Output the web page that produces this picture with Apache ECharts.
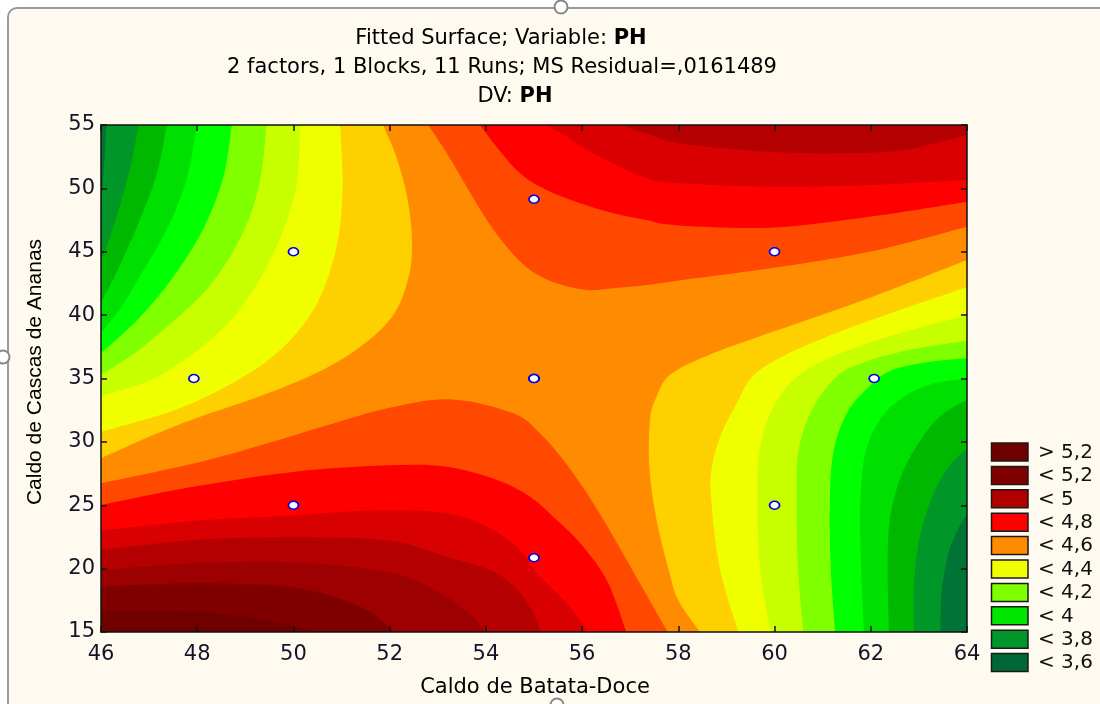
<!DOCTYPE html>
<html><head><meta charset="utf-8">
<script src="https://cdn.jsdelivr.net/npm/echarts@6/dist/echarts.min.js"></script>
<style>html,body{margin:0;padding:0;background:#fff}#c{width:1100px;height:704px}</style>
</head><body><div id="c"></div>
<script>
// ---------- axes ----------
const xMin = 46, xMax = 64, xStep = 2;
const yMin = 15, yMax = 55, yStep = 5;
const xName = 'Caldo de Batata-Doce';
const yName = 'Caldo de Cascas de Ananas';
const titleLines = ['Fitted Surface; Variable: ', '2 factors, 1 Blocks, 11 Runs; MS Residual=,0161489', 'DV: '];
const titleBold = ['PH', '', 'PH'];

// ---------- legend ----------
const legendLabels = ['> 5,2', '< 5,2', '< 5', '< 4,8', '< 4,6', '< 4,4', '< 4,2', '< 4', '< 3,8', '< 3,6'];
const legendColors = ['#6E0000', '#800000', '#B00000', '#FF0000', '#FF8C00', '#F0FF00', '#80FF00', '#00E600', '#00962A', '#006838'];

// ---------- contour bands ----------
const centerColor = '#FF8C00';                       // band 4.5 - 4.6 (saddle centre)
const lowLevels = [4.5, 4.4, 4.3, 4.2, 4.1, 4.0, 3.9, 3.8, 3.7];
const lowColors = ['#FFD000', '#F0FF00', '#C8FF00', '#80FF00', '#00FF00', '#00E000', '#00B800', '#009628', '#007434'];
const highLevels = [4.6, 4.7, 4.8, 4.9, 5.0, 5.1, 5.2];
const highColors = ['#FF4800', '#FF0000', '#D80000', '#B40000', '#9C0000', '#800000', '#700000'];

// contour lines, [x, y] in data units
// top-left family (top edge -> left edge), same order as lowLevels
const contourTopLeft = [
  [[51.86,55],[52.11,52.8],[52.32,50.1],[52.44,47.3],[52.46,44.7],[52.38,42.8],[52.17,40.6],[51.8,38.8],[51.2,37],[50.4,35.3],[49.3,33.6],[48,31.9],[47,30.4],[46,28.7]],
  [[50.97,55],[51.02,50],[50.9,45.5],[50.5,41],[49.8,37.5],[48.9,35],[47.6,32.6],[46,30.8]],
  [[50.14,55],[50.05,50],[49.6,45],[48.9,40.5],[48.1,37.5],[47.1,35],[46,33.6]],
  [[49.44,55],[49.3,50.5],[48.95,46.5],[48.3,42.5],[47.5,39.5],[46.7,37],[46,35.3]],
  [[48.72,55],[48.55,51],[48.15,47],[47.5,43],[46.8,39.8],[46,37]],
  [[47.99,55],[47.8,51],[47.4,47],[46.8,43],[46.4,40.5],[46,38.6]],
  [[47.37,55],[47.15,51],[46.75,47],[46.3,43.2],[46,41]],
  [[46.78,55],[46.6,51.5],[46.3,47.5],[46,44.2]],
  [[46.12,55],[46.06,51.5],[46,48.3]]
];
// bottom-right family (bottom edge -> right edge), same order as lowLevels
const contourBottomRight = [
  [[58.45,15],[58.0,17.5],[57.8,19.9],[57.55,23.8],[57.4,27.8],[57.41,31.7],[57.55,33.6],[57.83,35.3],[58.6,36.8],[59.9,38.6],[62.0,41.4],[64,44.35]],
  [[59.25,15],[58.87,19.9],[58.69,25.15],[58.69,27.8],[58.87,30.4],[59.21,33.0],[59.55,35.2],[60.2,36.8],[61.3,38.6],[62.6,40.4],[64,42.2]],
  [[59.92,15],[59.7,19.9],[59.64,25.15],[59.68,29.1],[59.91,32.25],[60.32,34.6],[60.9,36.2],[61.8,37.6],[62.9,38.9],[64,40.0]],
  [[60.6,15],[60.49,19.9],[60.46,25.15],[60.49,29.1],[60.74,32.25],[61.15,34.6],[61.6,35.9],[62.6,37.1],[64,38.0]],
  [[61.26,15],[61.17,19.9],[61.15,25.15],[61.22,29.1],[61.5,32.25],[61.95,34.3],[62.4,35.6],[63.2,36.3],[64,36.6]],
  [[61.86,15],[61.8,20],[61.78,25],[61.88,29],[62.2,31.8],[62.7,33.6],[63.3,34.6],[64,35.0]],
  [[62.38,15],[62.35,20],[62.4,24],[62.65,27.5],[63.1,30.5],[63.5,32.2],[64,33.3]],
  [[62.9,15],[62.9,19],[63.05,23],[63.35,26.3],[63.65,28.2],[64,29.5]],
  [[63.45,15],[63.47,18],[63.6,21],[63.8,23],[64,24.3]]
];
// top family (top edge -> right edge), same order as highLevels
const contourTop = [
  [[52.8,55],[53.19,52.77],[53.6,50.13],[54.02,47.5],[54.43,45.4],[54.92,43.56],[55.47,42.51],[56.1,41.98],[56.65,42.12],[57.34,42.38],[57.95,42.7],[59.91,43.69],[61.98,45.0],[64,46.98]],
  [[53.88,55],[54.22,53.29],[54.71,51.19],[55.26,49.87],[55.96,48.82],[56.65,48.03],[57.34,47.5],[57.95,47.1],[59.91,46.9],[61.98,47.77],[64,48.95]],
  [[55.26,55],[55.68,54.08],[56.23,52.77],[56.93,51.45],[57.48,50.66],[58.03,50.4],[59.91,50.13],[61.98,50.27],[64,50.66]],
  [[56.79,55],[57.34,54.34],[58.03,53.55],[59.91,52.89],[61.29,52.77],[62.68,53.03],[64,54.21]],
  null, null, null
];
// bottom-left family (left edge -> bottom edge), same order as highLevels
const contourBottomLeft = [
  [[46,26.73],[47.95,28.31],[49.34,29.75],[50.72,31.33],[52.0,32.7],[53.3,33.35],[54.57,32.25],[55.12,30.68],[55.61,28.57],[56.1,25.94],[56.65,22.52],[57.2,18.84],[57.78,15]],
  [[46,25.02],[47.95,26.47],[50.03,27.65],[52.0,28.15],[53.19,28.04],[54.23,27.0],[54.92,25.67],[55.47,23.84],[55.96,22.0],[56.51,19.1],[56.92,15]],
  [[46,23.0],[48,23.8],[50,24.2],[51.8,24.6],[53.19,24.37],[54.09,23.18],[54.71,21.47],[55.06,19.63],[55.68,17.26],[56.12,15]],
  [[46,21.47],[47.95,22.26],[50.03,22.5],[52.0,22.2],[53.19,20.94],[54.23,19.63],[54.85,17.4],[55.15,15]],
  [[46,19.89],[47.95,20.42],[50.03,20.5],[52.0,19.7],[53.0,18.2],[53.6,16.6],[54.0,15]],
  [[46,18.58],[47.95,18.84],[50.03,18.5],[51.4,17.0],[52.1,15]],
  [[46,16.7],[48,16.6],[49.5,15.9],[50.5,15]]
];

// design points (11 runs)
const designX = [50, 50, 60, 60, 47.93, 62.07, 55, 55, 55, 55, 55];
const designY = [25, 45, 25, 45, 35, 35, 20.86, 49.14, 35, 35, 35];

// ---------- build regions (painter's order) ----------
const regions = [{ full: true, color: centerColor }];
lowLevels.forEach((lv, i) => {
  if (contourTopLeft[i]) regions.push({ pts: contourTopLeft[i], corner: [xMin, yMax], color: lowColors[i] });
  if (contourBottomRight[i]) regions.push({ pts: contourBottomRight[i], corner: [xMax, yMin], color: lowColors[i] });
});
highLevels.forEach((lv, i) => {
  if (contourTop[i]) regions.push({ pts: contourTop[i], corner: [xMax, yMax], color: highColors[i] });
  if (contourBottomLeft[i]) regions.push({ pts: contourBottomLeft[i], corner: [xMin, yMin], color: highColors[i] });
});

function renderRegion(params, api) {
  const r = regions[params.dataIndex];
  if (r.full) {
    const a = api.coord([xMin, yMax]), b = api.coord([xMax, yMin]);
    return { type: 'rect', shape: { x: a[0], y: a[1], width: b[0] - a[0], height: b[1] - a[1] }, style: { fill: r.color } };
  }
  const P = r.pts.map(p => api.coord(p));
  let d = 'M' + P[0][0] + ' ' + P[0][1];
  for (let i = 0; i < P.length - 1; i++) {
    const p0 = P[i - 1] || P[i], p1 = P[i], p2 = P[i + 1], p3 = P[i + 2] || P[i + 1];
    const c1x = p1[0] + (p2[0] - p0[0]) / 6, c1y = p1[1] + (p2[1] - p0[1]) / 6;
    const c2x = p2[0] - (p3[0] - p1[0]) / 6, c2y = p2[1] - (p3[1] - p1[1]) / 6;
    d += ' C' + c1x + ' ' + c1y + ' ' + c2x + ' ' + c2y + ' ' + p2[0] + ' ' + p2[1];
  }
  const c = api.coord(r.corner);
  d += ' L' + c[0] + ' ' + c[1] + ' Z';
  return { type: 'path', shape: { pathData: d }, style: { fill: r.color } };
}

// ---------- chart ----------
const FONT_H = "'DejaVu Sans', sans-serif";          // horizontal text
const FONT_V = "'Liberation Sans', Arial, sans-serif"; // rotated axis name
const chart = echarts.init(document.getElementById('c'), null, { renderer: 'canvas' });
const G = { left: 101, right: 133, top: 125, bottom: 72 };

const graphics = [];
graphics.push({ type: 'rect', z: -100, shape: { x: 8, y: 8, width: 1120, height: 720, r: [9, 0, 0, 0] },
  style: { fill: '#FFFAF0', stroke: '#9A9A9A', lineWidth: 2 } });
[[561, 7], [3, 357], [557, 705]].forEach(p => graphics.push({ type: 'circle', z: 100, shape: { cx: p[0], cy: p[1], r: 6.5 },
  style: { fill: '#fff', stroke: '#888', lineWidth: 2 } }));
const titleY = [39, 68, 97];
const titleX = [501, 502, 515];
titleLines.forEach((t, i) => graphics.push({ type: 'text', x: titleX[i], y: titleY[i], z: 50,
  style: { text: '{n|' + t + '}' + (titleBold[i] ? '{b|' + titleBold[i] + '}' : ''), align: 'center', verticalAlign: 'middle',
    rich: { n: { font: '21px ' + FONT_H, fill: '#000' }, b: { font: 'bold 21px ' + FONT_H, fill: '#000' } } } }));
graphics.push({ type: 'text', x: 535, y: 688, z: 50, style: { text: xName, font: '21px ' + FONT_H, fill: '#000', align: 'center', verticalAlign: 'middle' } });
graphics.push({ type: 'text', x: 35, y: 372, z: 50, rotation: Math.PI / 2, style: { text: yName, font: '21px ' + FONT_V, fill: '#000', align: 'center', verticalAlign: 'middle' } });
legendLabels.forEach((lab, i) => {
  const y = 443 + i * 23.4;
  graphics.push({ type: 'rect', z: 50, shape: { x: 991.5, y: y, width: 36.5, height: 18 }, style: { fill: legendColors[i], stroke: '#1a1a1a', lineWidth: 1.5 } });
  graphics.push({ type: 'text', z: 50, x: 1038, y: y + 9.5, style: { text: lab, font: '20px ' + FONT_H, fill: '#101010', align: 'left', verticalAlign: 'middle' } });
});

const axisCommon = { axisLine: { show: true, lineStyle: { color: '#111', width: 1.5 } }, axisTick: { show: true, inside: true, length: 6, lineStyle: { color: '#111', width: 1.5 } }, splitLine: { show: false }, z: 20 };
const option = {
  animation: false,
  backgroundColor: '#ffffff',
  grid: G,
  graphic: graphics,
  xAxis: [
    Object.assign({ type: 'value', position: 'bottom', min: xMin, max: xMax, interval: xStep,
      axisLabel: { color: '#141428', fontSize: 21, fontFamily: FONT_H, margin: 12 } }, axisCommon),
    Object.assign({ type: 'value', position: 'top', min: xMin, max: xMax, interval: xStep, axisLabel: { show: false } }, axisCommon)
  ],
  yAxis: [
    Object.assign({ type: 'value', position: 'left', min: yMin, max: yMax, interval: yStep,
      axisLabel: { color: '#141428', fontSize: 21, fontFamily: FONT_H, margin: 6 } }, axisCommon),
    Object.assign({ type: 'value', position: 'right', min: yMin, max: yMax, interval: yStep, axisLabel: { show: false } }, axisCommon)
  ],
  series: [
    { type: 'custom', coordinateSystem: 'cartesian2d', clip: true, silent: true, z: 2,
      data: regions.map((r, i) => [i]), renderItem: renderRegion },
    { type: 'scatter', z: 10, silent: true, symbol: 'circle', symbolSize: [10, 8],
      itemStyle: { color: '#ffffff', borderColor: '#0000E0', borderWidth: 1.6, opacity: 1 },
      data: designX.map((x, i) => [x, designY[i]]) }
  ]
};
chart.setOption(option);
</script></body></html>
